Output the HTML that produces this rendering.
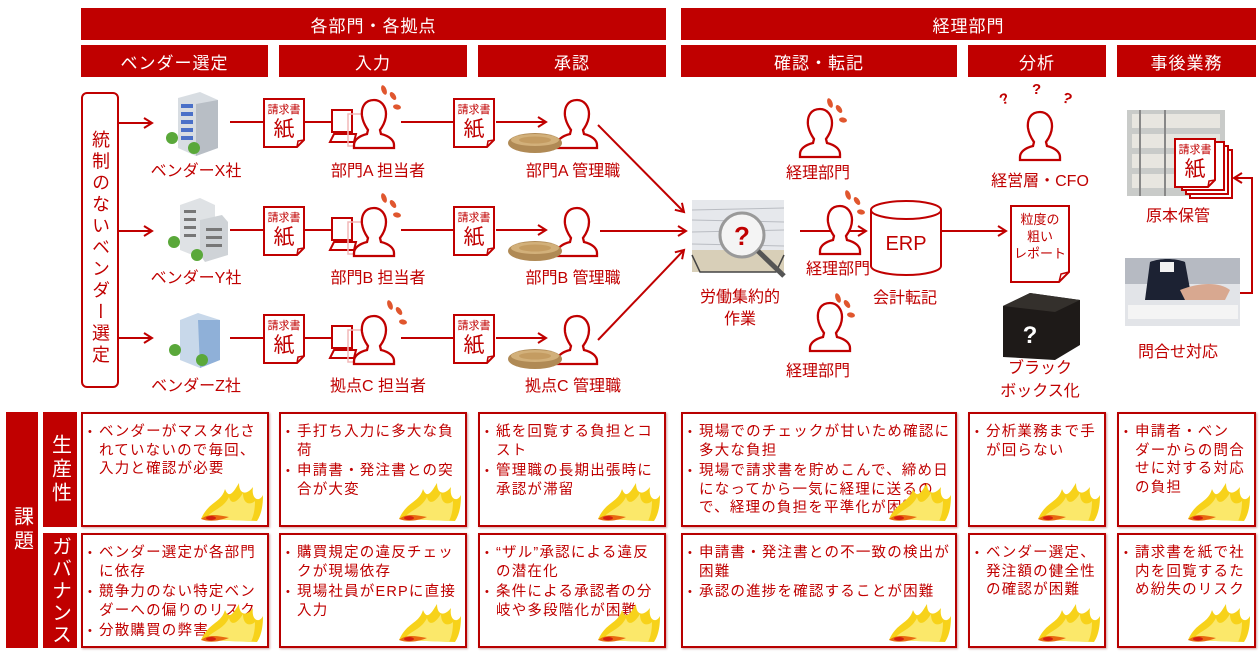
<!DOCTYPE html>
<html><head><meta charset="utf-8">
<style>
*{margin:0;padding:0;box-sizing:border-box}
body{width:1260px;height:653px;background:#fff;position:relative;overflow:hidden;font-family:"Liberation Sans","Noto Sans CJK JP",sans-serif;color:#c00000}
.bar{position:absolute;background:#c00000;color:#fff;font-size:17px;display:flex;align-items:center;justify-content:center;letter-spacing:1px}
.vbar{position:absolute;background:#c00000;color:#fff;display:flex;align-items:center;justify-content:center;writing-mode:vertical-rl;font-size:20px;letter-spacing:4px}
.box{position:absolute;border:2px solid #b80000;box-shadow:1px 1px 2px rgba(120,0,0,.35);background:#fff;padding:9px 2px 0 4px;font-size:14.5px;line-height:18.5px;letter-spacing:1.2px;overflow:hidden;line-break:strict}
.box p{position:relative;padding-left:12px;margin-bottom:2px}
.box p:before{content:"•";position:absolute;left:1px;top:0;font-size:11px}
.fl{position:absolute;right:2px;bottom:2px}
svg text{font-family:"Liberation Sans","Noto Sans CJK JP",sans-serif}
</style></head><body>

<div class="bar" style="left:81px;top:8px;width:585px;height:32px">各部門・各拠点</div>
<div class="bar" style="left:681px;top:8px;width:575px;height:32px">経理部門</div>
<div class="bar" style="left:81px;top:45px;width:187px;height:32px">ベンダー選定</div>
<div class="bar" style="left:279px;top:45px;width:188px;height:32px">入力</div>
<div class="bar" style="left:478px;top:45px;width:188px;height:32px">承認</div>
<div class="bar" style="left:681px;top:45px;width:276px;height:32px">確認・転記</div>
<div class="bar" style="left:968px;top:45px;width:138px;height:32px">分析</div>
<div class="bar" style="left:1117px;top:45px;width:139px;height:32px">事後業務</div>

<div style="position:absolute;left:81px;top:92px;width:38px;height:296px;border:2px solid #c00000;border-radius:6px;writing-mode:vertical-rl;font-size:18px;letter-spacing:3.5px;display:flex;align-items:center;padding-top:36px;line-height:34px">統制のないベンダー選定</div>

<svg width="1260" height="653" style="position:absolute;left:0;top:0" xmlns="http://www.w3.org/2000/svg">
<defs>
<marker id="ah" markerWidth="12" markerHeight="12" refX="10" refY="6" orient="auto" markerUnits="userSpaceOnUse">
<polyline points="2,1 10,6 2,11" fill="none" stroke="#c00000" stroke-width="2"/></marker>
<g id="person"><path d="M22 1 C13 1 9 8 10 17 C11 24 14 28 16 31 L15 35 C7 37 2 41 2 46 L2 49 L42 49 L42 46 C42 41 37 37 29 35 L28 31 C31 27 34 22 34 15 C34 7 29 1 22 1 Z" fill="#fff" stroke="#c00000" stroke-width="2.3"/></g>
<g id="drops" fill="#e0562e"><ellipse cx="0" cy="0" rx="2.5" ry="5" transform="rotate(-20)"/><ellipse cx="9" cy="6" rx="2.5" ry="4.5" transform="rotate(-35 9 6)"/><ellipse cx="13" cy="17" rx="4" ry="2.5" transform="rotate(10 13 17)"/></g>
<g id="doc"><path d="M1 1 H41 V42 L34 49 H1 Z" fill="#fff" stroke="#c00000" stroke-width="2"/><path d="M34 49 L35 43 L41 42" fill="none" stroke="#c00000" stroke-width="1.5"/><text x="21" y="15" font-size="11" text-anchor="middle" fill="#c00000">請求書</text><text x="21" y="38" font-size="21" text-anchor="middle" fill="#c00000">紙</text></g>
<g id="laptop"><rect x="0" y="0" width="20" height="22" fill="#fff" stroke="#c00000" stroke-width="2"/><path d="M-2 32 L2 24 H24 L22 32 Z" fill="#fff" stroke="#c00000" stroke-width="2"/><rect x="16" y="4" width="26" height="32" fill="none" stroke="#f2b8b8" stroke-width="1.5"/></g>
<g id="basket"><ellipse cx="27" cy="10" rx="27" ry="10" fill="#b08a55"/><ellipse cx="27" cy="7" rx="24" ry="6" fill="#d2b07a"/><ellipse cx="27" cy="7" rx="16" ry="3.5" fill="#c49c62"/></g>
<g id="flame">
<path d="M2 38 C10 20 22 22 26 8 C30 18 34 12 40 2 C40 14 48 14 54 6 C52 18 60 22 64 14 C64 26 62 34 58 40 Z" fill="#f7d21a"/>
<path d="M6 38 C14 28 24 28 30 16 C32 24 38 22 44 12 C44 24 52 24 56 20 C56 30 54 36 52 40 Z" fill="#fbe86a"/>
<path d="M2 38 C10 32 18 34 30 36 C20 40 10 41 2 38 Z" fill="#e86a10"/>
<ellipse cx="12" cy="37" rx="5" ry="2" fill="#d42010"/></g>
</defs>

<g stroke="#c00000" stroke-width="2" fill="none">
<line x1="119" y1="123" x2="152" y2="123" marker-end="url(#ah)"/>
<line x1="119" y1="231" x2="152" y2="231" marker-end="url(#ah)"/>
<line x1="119" y1="338" x2="152" y2="338" marker-end="url(#ah)"/>
<line x1="230" y1="122" x2="263" y2="122"/><line x1="230" y1="230" x2="263" y2="230"/><line x1="230" y1="338" x2="263" y2="338"/>
<line x1="305" y1="122" x2="344" y2="122" marker-end="url(#ah)"/><line x1="305" y1="230" x2="344" y2="230" marker-end="url(#ah)"/><line x1="305" y1="338" x2="344" y2="338" marker-end="url(#ah)"/>
<line x1="401" y1="122" x2="453" y2="122"/><line x1="401" y1="230" x2="453" y2="230"/><line x1="401" y1="338" x2="453" y2="338"/>
<line x1="496" y1="122" x2="546" y2="122" marker-end="url(#ah)"/><line x1="496" y1="230" x2="546" y2="230" marker-end="url(#ah)"/><line x1="496" y1="338" x2="546" y2="338" marker-end="url(#ah)"/>
<line x1="598" y1="125" x2="684" y2="212" marker-end="url(#ah)"/>
<line x1="600" y1="231" x2="686" y2="231" marker-end="url(#ah)"/>
<line x1="598" y1="340" x2="684" y2="250" marker-end="url(#ah)"/>
<line x1="800" y1="231" x2="866" y2="231" marker-end="url(#ah)"/>
<line x1="941" y1="231" x2="1006" y2="231" marker-end="url(#ah)"/>
<polyline points="1240,293 1252,293 1252,178 1234,178" marker-end="url(#ah)"/>
</g>

<g>
<polygon points="178,98 200,92 218,100 218,148 196,156 178,148" fill="#d8dde2"/>
<polygon points="196,104 218,100 218,148 196,156" fill="#b8bec5"/>
<g fill="#4a70c8"><rect x="181" y="104" width="12" height="4"/><rect x="181" y="112" width="12" height="4"/><rect x="181" y="120" width="12" height="4"/><rect x="181" y="128" width="12" height="4"/><rect x="181" y="136" width="12" height="4"/></g>
<circle cx="172" cy="138" r="6" fill="#5aa83a"/><circle cx="194" cy="148" r="6" fill="#5aa83a"/>
<polygon points="180,205 200,198 215,205 215,250 195,256 180,250" fill="#dfe2e5"/>
<polygon points="200,220 222,215 228,222 228,255 205,262 200,255" fill="#cfd3d7"/>
<g fill="#777"><rect x="184" y="210" width="12" height="3"/><rect x="184" y="218" width="12" height="3"/><rect x="184" y="226" width="12" height="3"/><rect x="184" y="234" width="12" height="3"/><rect x="206" y="228" width="16" height="3"/><rect x="206" y="236" width="16" height="3"/><rect x="206" y="244" width="16" height="3"/></g>
<circle cx="174" cy="242" r="6" fill="#5aa83a"/><circle cx="197" cy="255" r="6" fill="#5aa83a"/>
<polygon points="180,320 198,313 220,320 220,360 200,368 180,360" fill="#c8d8ea"/>
<polygon points="198,320 220,320 220,360 200,368" fill="#8fb0d8"/>
<circle cx="175" cy="350" r="6" fill="#5aa83a"/><circle cx="202" cy="360" r="6" fill="#5aa83a"/>
</g>

<g font-size="16" fill="#c00000" text-anchor="middle">
<text x="196" y="176">ベンダーX社</text><text x="196" y="283">ベンダーY社</text><text x="196" y="391">ベンダーZ社</text>
<text x="378" y="176">部門A 担当者</text><text x="378" y="283">部門B 担当者</text><text x="378" y="391">拠点C 担当者</text>
<text x="573" y="176">部門A 管理職</text><text x="573" y="283">部門B 管理職</text><text x="573" y="391">拠点C 管理職</text>
</g>

<use href="#doc" x="263" y="98"/><use href="#doc" x="263" y="206"/><use href="#doc" x="263" y="314"/>
<use href="#doc" x="453" y="98"/><use href="#doc" x="453" y="206"/><use href="#doc" x="453" y="314"/>
<use href="#laptop" x="332" y="110"/><use href="#laptop" x="332" y="218"/><use href="#laptop" x="332" y="326"/>
<use href="#person" x="352" y="99"/><use href="#person" x="352" y="207"/><use href="#person" x="352" y="315"/>
<use href="#drops" x="384" y="90"/><use href="#drops" x="384" y="198"/><use href="#drops" x="390" y="305"/>
<use href="#person" x="555" y="99"/><use href="#person" x="555" y="207"/><use href="#person" x="555" y="315"/>
<use href="#basket" x="508" y="133"/><use href="#basket" x="508" y="241"/><use href="#basket" x="508" y="349"/>

<g>
<rect x="692" y="200" width="92" height="62" fill="#e6e8ec"/>
<g stroke="#b9bcc2" stroke-width="1"><line x1="692" y1="210" x2="784" y2="208"/><line x1="692" y1="220" x2="784" y2="222"/><line x1="692" y1="232" x2="784" y2="230"/><line x1="692" y1="244" x2="784" y2="246"/></g>
<rect x="692" y="250" width="92" height="22" fill="#d8cfb8"/>
<path d="M692 255 L700 272 H776 L784 255" fill="none" stroke="#444" stroke-width="1.5"/>
<circle cx="742" cy="235" r="22" fill="#f4f4f4" stroke="#999" stroke-width="3"/>
<line x1="758" y1="251" x2="784" y2="276" stroke="#555" stroke-width="5"/>
<text x="742" y="245" font-size="26" font-weight="bold" fill="#c00000" text-anchor="middle">?</text>
</g>
<g font-size="16" fill="#c00000" text-anchor="middle">
<text x="740" y="302">労働集約的</text><text x="740" y="324">作業</text>
<text x="818" y="178">経理部門</text><text x="838" y="274">経理部門</text><text x="818" y="376">経理部門</text>
<text x="905" y="303">会計転記</text>
<text x="1040" y="186">経営層・CFO</text>
<text x="1040" y="373">ブラック</text><text x="1040" y="396">ボックス化</text>
<text x="1178" y="221">原本保管</text>
<text x="1178" y="357">問合せ対応</text>
</g>
<use href="#person" x="798" y="108"/><use href="#drops" x="830" y="103"/>
<use href="#person" x="818" y="205"/><use href="#drops" x="848" y="195"/>
<use href="#person" x="808" y="302"/><use href="#drops" x="838" y="298"/>
<use href="#person" x="1018" y="111"/>
<g fill="#c00000" font-size="15" font-weight="bold"><text x="1000" y="104" transform="rotate(-20 1004 100)">?</text><text x="1032" y="94">?</text><text x="1062" y="103" transform="rotate(20 1066 100)">?</text></g>

<path d="M871 210 V266 A35 9 0 0 0 941 266 V210" fill="#fff" stroke="#c00000" stroke-width="2"/>
<ellipse cx="906" cy="210" rx="35" ry="9" fill="#fff" stroke="#c00000" stroke-width="2"/>
<text x="906" y="250" font-size="20" fill="#c00000" text-anchor="middle">ERP</text>
<path d="M1011 206 H1069 V272 L1059 282 H1011 Z" fill="#fff" stroke="#c00000" stroke-width="2"/>
<path d="M1059 282 L1061 274 L1069 272" fill="none" stroke="#c00000" stroke-width="1.5"/>
<g font-size="13" fill="#c00000" text-anchor="middle"><text x="1040" y="224">粒度の</text><text x="1040" y="241">粗い</text><text x="1040" y="258">レポート</text></g>
<polygon points="1003,306 1030,293 1080,300 1080,345 1055,360 1003,357" fill="#1e1a18"/>
<polygon points="1003,306 1030,293 1080,300 1055,312" fill="#34302c"/>
<text x="1030" y="343" font-size="24" font-weight="bold" fill="#fff" text-anchor="middle">?</text>

<rect x="1127" y="110" width="98" height="86" fill="#c9cbc9"/>
<g fill="#e8e6e0"><rect x="1132" y="114" width="88" height="14"/><rect x="1132" y="134" width="88" height="14"/><rect x="1132" y="154" width="88" height="14"/><rect x="1132" y="174" width="88" height="14"/></g>
<g stroke="#888" stroke-width="2"><line x1="1140" y1="110" x2="1140" y2="196"/><line x1="1165" y1="110" x2="1165" y2="196"/></g>
<g fill="#fff" stroke="#c00000" stroke-width="2"><rect x="1190" y="150" width="42" height="48"/><rect x="1186" y="146" width="42" height="48"/><rect x="1182" y="142" width="42" height="48"/></g>
<use href="#doc" x="1174" y="138"/>
<rect x="1125" y="258" width="115" height="68" fill="#e2e4e8"/>
<rect x="1125" y="258" width="115" height="26" fill="#b6bac2"/>
<path d="M1150 262 C1160 258 1175 258 1185 262 L1192 300 H1145 Z" fill="#1c2233"/>
<rect x="1160" y="262" width="14" height="10" fill="#f2f2f2"/>
<path d="M1180 290 C1200 282 1220 282 1230 290 L1225 300 H1185 Z" fill="#d8a890"/>
<rect x="1128" y="305" width="110" height="14" fill="#f4f4f4"/>
</svg>

<div class="vbar" style="left:6px;top:412px;width:32px;height:236px">課題</div>
<div class="vbar" style="left:43px;top:412px;width:34px;height:115px">生産性</div>
<div class="vbar" style="left:43px;top:533px;width:34px;height:115px;letter-spacing:2px">ガバナンス</div>

<div class="box" style="left:81px;top:412px;width:188px;height:115px"><p>ベンダーがマスタ化されていないので毎回、入力と確認が必要</p><svg class="fl" width="66" height="42"><use href="#flame"/></svg></div>
<div class="box" style="left:279px;top:412px;width:188px;height:115px"><p>手打ち入力に多大な負荷</p><p>申請書・発注書との突合が大変</p><svg class="fl" width="66" height="42"><use href="#flame"/></svg></div>
<div class="box" style="left:478px;top:412px;width:188px;height:115px"><p>紙を回覧する負担とコスト</p><p>管理職の長期出張時に承認が滞留</p><svg class="fl" width="66" height="42"><use href="#flame"/></svg></div>
<div class="box" style="left:681px;top:412px;width:276px;height:115px"><p>現場でのチェックが甘いため確認に多大な負担</p><p>現場で請求書を貯めこんで、締め日になってから一気に経理に送るので、経理の負担を平準化が困難</p><svg class="fl" width="66" height="42"><use href="#flame"/></svg></div>
<div class="box" style="left:968px;top:412px;width:138px;height:115px"><p>分析業務まで手が回らない</p><svg class="fl" width="66" height="42"><use href="#flame"/></svg></div>
<div class="box" style="left:1117px;top:412px;width:139px;height:115px"><p>申請者・ベン<br>ダーからの問合せに対する対応の負担</p><svg class="fl" width="66" height="42"><use href="#flame"/></svg></div>

<div class="box" style="left:81px;top:533px;width:188px;height:115px"><p>ベンダー選定が各部門に依存</p><p>競争力のない特定ベンダーへの偏りのリスク</p><p>分散購買の弊害</p><svg class="fl" width="66" height="42"><use href="#flame"/></svg></div>
<div class="box" style="left:279px;top:533px;width:188px;height:115px"><p>購買規定の違反チェックが現場依存</p><p>現場社員がERPに直接入力</p><svg class="fl" width="66" height="42"><use href="#flame"/></svg></div>
<div class="box" style="left:478px;top:533px;width:188px;height:115px"><p>“ザル”承認による違反の潜在化</p><p>条件による承認者の分岐や多段階化が困難</p><svg class="fl" width="66" height="42"><use href="#flame"/></svg></div>
<div class="box" style="left:681px;top:533px;width:276px;height:115px"><p>申請書・発注書との不一致の検出が困難</p><p>承認の進捗を確認することが困難</p><svg class="fl" width="66" height="42"><use href="#flame"/></svg></div>
<div class="box" style="left:968px;top:533px;width:138px;height:115px"><p>ベンダー選定、発注額の健全性の確認が困難</p><svg class="fl" width="66" height="42"><use href="#flame"/></svg></div>
<div class="box" style="left:1117px;top:533px;width:139px;height:115px"><p>請求書を紙で社内を回覧するため紛失のリスク</p><svg class="fl" width="66" height="42"><use href="#flame"/></svg></div>
</body></html>
